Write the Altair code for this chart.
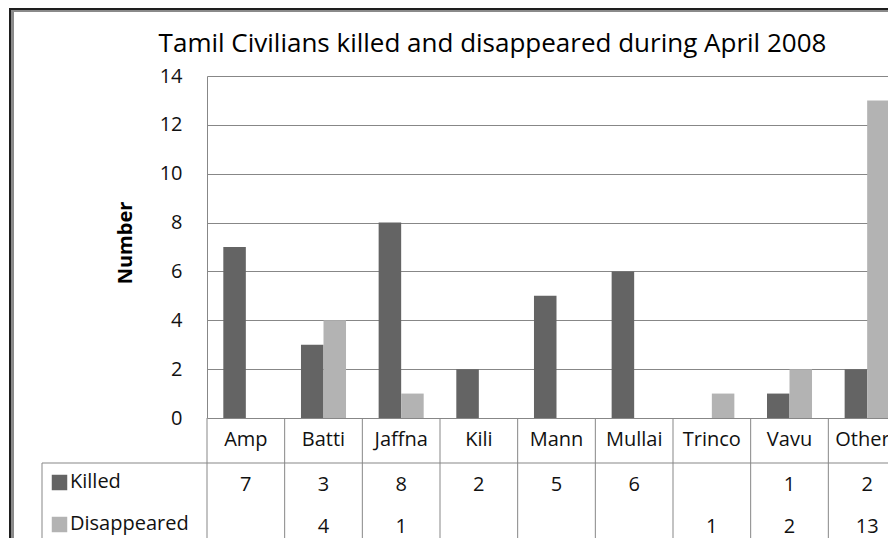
import altair as alt
import pandas as pd

# ---- data ----
categories = ["Amp", "Batti", "Jaffna", "Kili", "Mann", "Mullai", "Trinco", "Vavu", "Others"]
killed = [7, 3, 8, 2, 5, 6, None, 1, 2]
disappeared = [None, 4, 1, None, None, None, 1, 2, 13]
series_names = ["Killed", "Disappeared"]
series_colors = ["#646464", "#b3b3b3"]
y_ticks = [0, 2, 4, 6, 8, 10, 12, 14]
title_text = "Tamil Civilians killed and disappeared during April 2008"
y_title = "Number"

rows = []
for c, k, d in zip(categories, killed, disappeared):
    rows.append({"cat": c, "series": "Killed", "value": k})
    rows.append({"cat": c, "series": "Disappeared", "value": d})
df = pd.DataFrame(rows)
df_vals = df.dropna(subset=["value"]).copy()
df_vals["label"] = df_vals["value"].astype(int).astype(str)

W, H = 681, 342
RANGE_END = 699          # the last category runs past the right edge, as in the reference
FONT = "Open Sans"
GRID = "#878787"
TXT = "#111111"
FS = 20

xband = alt.Scale(type="band", domain=categories, range=[0, RANGE_END],
                  paddingInner=0.42, paddingOuter=0.21)
xpoint = alt.Scale(type="point", domain=categories, range=[0, RANGE_END], padding=0.5)
val_y = alt.Scale(type="point", domain=series_names, range=[H + 67, H + 109], padding=0)
lab_y = alt.Scale(type="point", domain=series_names, range=[H + 64, H + 106], padding=0)
sw_y = alt.Scale(type="point", domain=series_names, range=[H + 64.5, H + 106.5], padding=0)
color_scale = alt.Scale(domain=series_names, range=series_colors)

bars = alt.Chart(df_vals).mark_bar().encode(
    x=alt.X("cat:N", scale=xband, axis=None),
    xOffset=alt.XOffset("series:N", scale=alt.Scale(domain=series_names)),
    y=alt.Y("value:Q", scale=alt.Scale(domain=[0, 14], nice=False),
            axis=alt.Axis(values=y_ticks, grid=True, gridColor=GRID, gridWidth=1,
                          domain=True, domainColor=GRID, ticks=False,
                          labelFont=FONT, labelFontSize=FS, labelPadding=25,
                          labelColor=TXT, title=None)),
    color=alt.Color("series:N", scale=color_scale, legend=None),
)

cat_text = alt.Chart(pd.DataFrame({"cat": categories})).mark_text(
    font=FONT, fontSize=FS, baseline="middle", color=TXT
).encode(
    x=alt.X("cat:N", scale=xpoint, axis=None),
    y=alt.value(H + 21.5),
    text="cat:N",
)

val_text = alt.Chart(df_vals).mark_text(
    font=FONT, fontSize=FS, baseline="middle", color=TXT
).encode(
    x=alt.X("cat:N", scale=xpoint, axis=None),
    y=alt.Y("series:N", scale=val_y, axis=None),
    text="label:N",
)

series_df = pd.DataFrame({"series": series_names})
row_labels = alt.Chart(series_df).mark_text(
    font=FONT, fontSize=FS, baseline="middle", align="left", color=TXT
).encode(
    x=alt.value(-137),
    y=alt.Y("series:N", scale=lab_y, axis=None),
    text="series:N",
)
swatches = alt.Chart(series_df).mark_point(shape="square", filled=True, opacity=1, size=240).encode(
    x=alt.value(-147.5),
    y=alt.Y("series:N", scale=sw_y, axis=None),
    color=alt.Color("series:N", scale=color_scale, legend=None),
)

# table grid lines
bounds_df = pd.DataFrame({"b": list(range(len(categories)))})
vlines = alt.Chart(bounds_df).mark_rule(color=GRID, strokeWidth=1).encode(
    x=alt.X("b:Q", scale=alt.Scale(domain=[0, len(categories)], range=[0, RANGE_END]), axis=None),
    y=alt.value(H),
    y2=alt.value(H + 140),
)
hline = alt.Chart(pd.DataFrame({"k": [0]})).mark_rule(color=GRID, strokeWidth=1).encode(
    x=alt.value(-165), x2=alt.value(RANGE_END), y=alt.value(H + 45)
)
left_tbl = alt.Chart(pd.DataFrame({"k": [0]})).mark_rule(color=GRID, strokeWidth=1).encode(
    x=alt.value(-165), y=alt.value(H + 45), y2=alt.value(H + 140)
)

# chart frame
frame_l1 = alt.Chart(pd.DataFrame({"k": [0]})).mark_rule(color="#1e1e1e", strokeWidth=2).encode(
    x=alt.value(-197), y=alt.value(-68), y2=alt.value(H + 140)
)
frame_l2 = alt.Chart(pd.DataFrame({"k": [0]})).mark_rule(color="#8a8a8a", strokeWidth=3).encode(
    x=alt.value(-194.5), y=alt.value(-65), y2=alt.value(H + 140)
)
frame_t1 = alt.Chart(pd.DataFrame({"k": [0]})).mark_rule(color="#1e1e1e", strokeWidth=2).encode(
    x=alt.value(-198), x2=alt.value(RANGE_END), y=alt.value(-67)
)
frame_t2 = alt.Chart(pd.DataFrame({"k": [0]})).mark_rule(color="#8a8a8a", strokeWidth=2).encode(
    x=alt.value(-196), x2=alt.value(RANGE_END), y=alt.value(-65)
)

title = alt.Chart(pd.DataFrame({"t": [title_text]})).mark_text(
    font=FONT, fontSize=26, align="center", baseline="alphabetic", color="#000000"
).encode(x=alt.value(285.5), y=alt.value(-24), text="t:N")

ytitle = alt.Chart(pd.DataFrame({"t": [y_title]})).mark_text(
    font=FONT, fontSize=20, fontWeight="bold", align="center", baseline="middle",
    angle=270, color="#000000"
).encode(x=alt.value(-81), y=alt.value(H / 2 - 4), text="t:N")

chart = alt.layer(
    bars, vlines, hline, left_tbl, cat_text, val_text, row_labels, swatches,
    frame_l1, frame_l2, frame_t1, frame_t2, title, ytitle
).resolve_scale(
    x="independent", y="independent"
).properties(
    width=W, height=H,
    autosize=alt.AutoSizeParams(type="none"),
    padding={"left": 199, "top": 68, "right": 0, "bottom": 120},
).configure_view(strokeWidth=0)

chart.save("out.html", embed_options={"renderer": "svg", "actions": False})
